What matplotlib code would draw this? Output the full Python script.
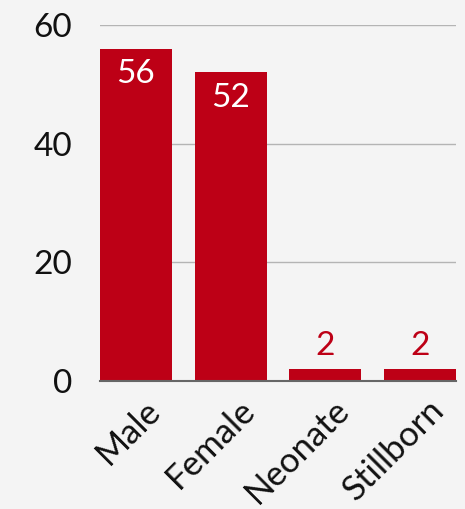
import matplotlib.pyplot as plt
import matplotlib.transforms as mtransforms
import numpy as np

# Data
categories = ['Male', 'Female', 'Neonate', 'Stillborn']
counts = [56, 52, 2, 2]
yticks = [0, 20, 40, 60]

bar_color = '#BD0016'
bg = '#F4F4F4'

plt.rcParams['font.family'] = ['Lato', 'DejaVu Sans']

fig = plt.figure(figsize=(4.65, 5.09), dpi=100, facecolor=bg)
ax = fig.add_axes([100 / 465, 1 - 381 / 509, 356 / 465, 356 / 509])
ax.set_facecolor(bg)

x = np.arange(len(categories))
bars = ax.bar(x, counts, width=0.76, color=bar_color, zorder=3)

ax.set_xlim(-0.38, len(categories) - 1 + 0.38)
ax.set_ylim(0, 60)
ax.set_yticks(yticks)
ax.set_yticklabels([str(t) for t in yticks], fontsize=24, color='#111111')
ax.yaxis.grid(True, color='#B4B4B4', linewidth=1, zorder=0)
ax.tick_params(axis='y', length=0, pad=20)
ax.tick_params(axis='x', length=0, pad=9)

ax.set_xticks(x)
ax.set_xticklabels(categories, fontsize=25, rotation=45, ha='right',
                   rotation_mode='anchor', color='#111111')
# shift rotated labels a bit to the right
offset = mtransforms.ScaledTranslation(8 / 100, 0, fig.dpi_scale_trans)
for lbl in ax.get_xticklabels():
    lbl.set_transform(lbl.get_transform() + offset)

for s in ['top', 'right', 'left']:
    ax.spines[s].set_visible(False)
ax.spines['bottom'].set_color('#666666')
ax.spines['bottom'].set_linewidth(1.5)
ax.spines['bottom'].set_zorder(4)

# Value labels
for bar, v in zip(bars, counts):
    cx = bar.get_x() + bar.get_width() / 2
    if v > 10:
        ax.text(cx, v - 1.7, str(v), ha='center', va='top', fontsize=24, color='white', zorder=5)
    else:
        ax.text(cx, v + 1.3, str(v), ha='center', va='bottom', fontsize=24, color=bar_color, zorder=5)

fig.savefig('out.png', dpi=100, facecolor=bg)
